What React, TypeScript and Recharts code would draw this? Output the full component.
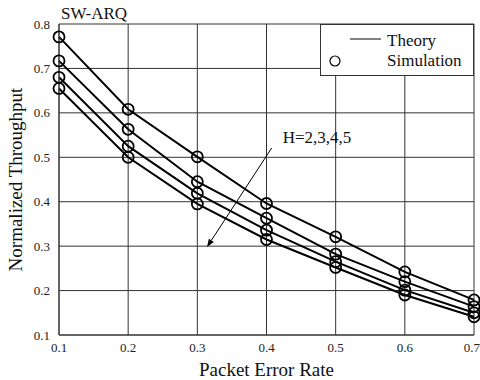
import { LineChart, Line, XAxis, YAxis, CartesianGrid, ReferenceLine, Legend } from 'recharts'

const errorRates = [0.1, 0.2, 0.3, 0.4, 0.5, 0.6, 0.7]
const h2 = [0.771, 0.608, 0.501, 0.396, 0.321, 0.242, 0.179]
const h3 = [0.717, 0.563, 0.445, 0.363, 0.282, 0.22, 0.164]
const h4 = [0.68, 0.525, 0.419, 0.336, 0.265, 0.201, 0.15]
const h5 = [0.655, 0.5, 0.395, 0.315, 0.252, 0.19, 0.141]
const xTicks = [0.1, 0.2, 0.3, 0.4, 0.5, 0.6, 0.7]
const yTicks = [0.1, 0.2, 0.3, 0.4, 0.5, 0.6, 0.7, 0.8]
const seriesKeys = ['h2', 'h3', 'h4', 'h5']

const data = errorRates.map((p, i) => ({ p, h2: h2[i], h3: h3[i], h4: h4[i], h5: h5[i] }))

const font = '"Liberation Serif", "Times New Roman", serif'
const tick = { fill: '#222', fontSize: 13, fontFamily: font }

function Arrow(props: any) {
  const { x1, y1, x2, y2 } = props
  const ang = Math.atan2(y2 - y1, x2 - x1)
  const len = 8
  const w = 3
  const bx = x2 - len * Math.cos(ang)
  const by = y2 - len * Math.sin(ang)
  const px = -Math.sin(ang) * w
  const py = Math.cos(ang) * w
  return (
    <g>
      <line x1={x1} y1={y1} x2={bx} y2={by} stroke="#000" strokeWidth={1} />
      <polygon points={`${x2},${y2} ${bx + px},${by + py} ${bx - px},${by - py}`} fill="#000" />
      <text x={x1 + 11} y={y1 - 5} fontFamily={font} fontSize={17} fill="#111">H=2,3,4,5</text>
    </g>
  )
}

function LegendBox() {
  return (
    <svg width={154} height={52} style={{ display: 'block' }}>
      <rect x={0.5} y={0.5} width={153} height={51} fill="#fff" stroke="#333" strokeWidth={1} />
      <line x1={30} y1={15} x2={61} y2={15} stroke="#000" strokeWidth={1} />
      <text x={67} y={22} fontFamily={font} fontSize={17} fill="#111">Theory</text>
      <circle cx={15} cy={37} r={5} fill="none" stroke="#000" strokeWidth={1.2} />
      <text x={67} y={42} fontFamily={font} fontSize={17} fill="#111">Simulation</text>
    </svg>
  )
}

export default function App() {
  return (
    <div style={{ position: 'absolute', left: 0, top: 0, width: 480, height: 380, background: '#fff' }}>
      <LineChart width={480} height={380} data={data} margin={{ top: 24, right: 6, left: 0, bottom: 0 }}>
        <CartesianGrid stroke="#333" strokeWidth={1} />
        <XAxis
          dataKey="p"
          type="number"
          domain={[0.1, 0.7]}
          ticks={xTicks}
          tick={tick}
          tickSize={0}
          tickMargin={8}
          height={45}
          stroke="#333"
          tickFormatter={(v) => String(v)}
          label={{ value: 'Packet Error Rate', position: 'insideBottom', offset: 4, style: { fontFamily: font, fontSize: 19, fill: '#111' } }}
        />
        <YAxis
          type="number"
          domain={[0.1, 0.8]}
          ticks={yTicks}
          tick={tick}
          tickSize={0}
          tickMargin={9}
          width={59}
          stroke="#333"
          tickFormatter={(v) => String(v)}
          label={{ value: 'Normalized Throughput', angle: -90, position: 'insideLeft', offset: 15, style: { textAnchor: 'middle', fontFamily: font, fontSize: 19, fill: '#111' } }}
        />
        <Legend
          layout="horizontal"
          verticalAlign="middle"
          align="center"
          wrapperStyle={{ position: 'absolute', left: 320, top: 24, width: 154, height: 52 }}
          content={() => <LegendBox />}
        />
        {seriesKeys.map((k) => (
          <Line
            key={k}
            dataKey={k}
            type="linear"
            stroke="#000"
            strokeWidth={2}
            dot={{ r: 5.5, stroke: '#000', strokeWidth: 1.8, fill: 'none' }}
            isAnimationActive={false}
          />
        ))}
        <ReferenceLine
          segment={[{ x: 0.4075, y: 0.521 }, { x: 0.314, y: 0.298 }]}
          shape={Arrow}
        />
      </LineChart>
      <div style={{ position: 'absolute', left: 61, top: 4, fontFamily: font, fontSize: 17, color: '#111', lineHeight: '20px' }}>SW-ARQ</div>
    </div>
  )
}
